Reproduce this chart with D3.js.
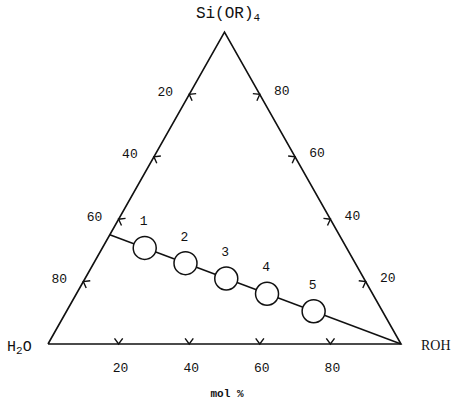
<!DOCTYPE html>
<html>
<head>
<meta charset="utf-8">
<script src="https://cdn.jsdelivr.net/npm/d3@7"></script>
<style>
  html, body { margin: 0; padding: 0; background: #fff; }
  svg { display: block; }
  text { fill: #111; }
</style>
</head>
<body>
<svg id="chart" width="452" height="400"></svg>
<script>
// Ternary diagram H2O – ROH – Si(OR)4, compositions in mol %
const vertexNames = ["H2O", "ROH", "Si(OR)4"];
const axisTicks = [20, 40, 60, 80];

// Start of the mixing line on the H2O–Si(OR)4 edge
const lineStart = { h2o: 65, roh: 0, si: 35 };
const lineEnd = { h2o: 0, roh: 100, si: 0 };

// Sample compositions 1–5 along the line
const sampleIds = [1, 2, 3, 4, 5];
const sampleH2O = [57.2, 48.1, 39.0, 29.9, 19.5];
const sampleROH = [12, 26, 40, 54, 70];
const sampleSi = [30.8, 25.9, 21.0, 16.1, 10.5];

const svg = d3.select("#chart");
const mono = "'Liberation Mono', 'DejaVu Sans Mono', monospace";

// Ternary projection: horizontal position from ROH + Si/2, height from Si
const xScale = d3.scaleLinear().domain([0, 100]).range([48, 401]);
const yScale = d3.scaleLinear().domain([0, 100]).range([344, 32]);
const proj = c => [xScale(c.roh + c.si / 2), yScale(c.si)];

const H = proj({ h2o: 100, roh: 0, si: 0 });
const R = proj({ h2o: 0, roh: 100, si: 0 });
const S = proj({ h2o: 0, roh: 0, si: 100 });

const ink = "#111";

// Triangle frame
svg.append("path")
  .attr("d", d3.line()([H, R, S, H]))
  .attr("fill", "none")
  .attr("stroke", ink)
  .attr("stroke-width", 1.6)
  .attr("stroke-linejoin", "miter");

// Chevron tick: tip on the edge, arms pointing into the triangle
function chevron(p, normal, len) {
  const a = Math.PI / 5;
  const [nx, ny] = normal;
  const rot = (ang) => [nx * Math.cos(ang) - ny * Math.sin(ang), nx * Math.sin(ang) + ny * Math.cos(ang)];
  const d1 = rot(a), d2 = rot(-a);
  return d3.line()([
    [p[0] + d1[0] * len, p[1] + d1[1] * len],
    p,
    [p[0] + d2[0] * len, p[1] + d2[1] * len]
  ]);
}
function unitNormalInward(p1, p2, inside) {
  const dx = p2[0] - p1[0], dy = p2[1] - p1[1];
  const L = Math.hypot(dx, dy);
  let nx = -dy / L, ny = dx / L;
  const mx = (p1[0] + p2[0]) / 2, my = (p1[1] + p2[1]) / 2;
  if ((inside[0] - mx) * nx + (inside[1] - my) * ny < 0) { nx = -nx; ny = -ny; }
  return [nx, ny];
}
const centroid = [(H[0] + R[0] + S[0]) / 3, (H[1] + R[1] + S[1]) / 3];

// Edge definitions: tick value -> composition on that edge
const edges = [
  { // bottom edge, ROH %
    from: H, to: R,
    comp: v => ({ h2o: 100 - v, roh: v, si: 0 }),
    label: (p) => [p[0] + 2, p[1] + 24]
  },
  { // left edge, H2O %
    from: S, to: H,
    comp: v => ({ h2o: v, roh: 0, si: 100 - v }),
    label: (p) => [p[0] - 24, p[1] - 2]
  },
  { // right edge, Si(OR)4 %
    from: R, to: S,
    comp: v => ({ h2o: 0, roh: 100 - v, si: v }),
    label: (p) => [p[0] + 22, p[1] - 3]
  }
];

edges.forEach(e => {
  const n = unitNormalInward(e.from, e.to, centroid);
  axisTicks.forEach(v => {
    const p = proj(e.comp(v));
    svg.append("path")
      .attr("d", chevron(p, n, 7))
      .attr("fill", "none")
      .attr("stroke", ink)
      .attr("stroke-width", 1.4);
    const lp = e.label(p);
    svg.append("text")
      .attr("x", lp[0]).attr("y", lp[1])
      .attr("text-anchor", "middle")
      .attr("dominant-baseline", "central")
      .attr("font-family", mono)
      .attr("font-size", 13)
      .text(v);
  });
});

// Mixing line
svg.append("path")
  .attr("d", d3.line()([proj(lineStart), proj(lineEnd)]))
  .attr("stroke", ink)
  .attr("stroke-width", 1.5)
  .attr("fill", "none");

// Samples
const samples = sampleIds.map((id, i) => ({ id, h2o: sampleH2O[i], roh: sampleROH[i], si: sampleSi[i] }));
const g = svg.append("g").selectAll("g").data(samples).join("g")
  .attr("transform", d => `translate(${proj(d)})`);
g.append("circle")
  .attr("r", 11.5)
  .attr("fill", "#fff")
  .attr("stroke", ink)
  .attr("stroke-width", 1.5);
g.append("text")
  .attr("x", -1).attr("y", -26)
  .attr("text-anchor", "middle")
  .attr("dominant-baseline", "central")
  .attr("font-family", mono)
  .attr("font-size", 13)
  .text(d => d.id);

// Vertex labels
const si = svg.append("text")
  .attr("x", 228).attr("y", 18)
  .attr("text-anchor", "middle")
  .attr("font-family", mono)
  .attr("font-size", 16);
si.append("tspan").text("Si(OR)");
si.append("tspan").attr("font-size", 11).attr("dy", 3).text("4");

const h2o = svg.append("text")
  .attr("x", 7).attr("y", 351)
  .attr("font-family", mono)
  .attr("font-size", 15);
h2o.append("tspan").text("H");
h2o.append("tspan").attr("font-size", 11).attr("dy", 3).text("2");
h2o.append("tspan").attr("dy", -3).text("O");

svg.append("text")
  .attr("x", 421).attr("y", 350)
  .attr("font-family", "'Liberation Serif', 'DejaVu Serif', serif")
  .attr("font-size", 14)
  .text("ROH");

// Axis unit
svg.append("text")
  .attr("x", 227).attr("y", 397)
  .attr("text-anchor", "middle")
  .attr("font-family", mono)
  .attr("font-size", 11)
  .attr("font-weight", "bold")
  .text("mol %");
</script>
</body>
</html>
